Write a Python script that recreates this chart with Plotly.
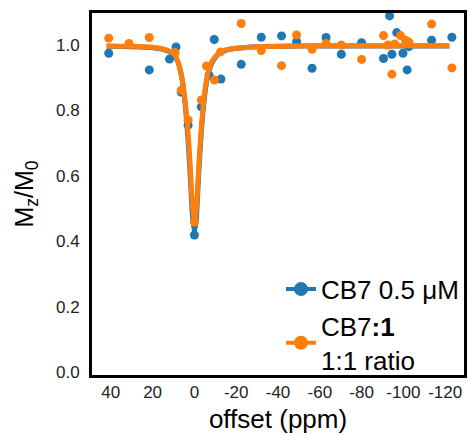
import plotly.graph_objects as go

# Data points (offset in ppm, Mz/M0)
blue_x = [41.0, 21.6, 11.9, 8.8, 6.3, 3.0, 0.0, -3.3, -7.0, -9.5, -12.7, -22.4, -32.0, -41.7,
          -48.9, -56.3, -63.0, -70.3, -80.0, -90.5, -93.4, -94.5, -96.8, -99.8, -101.8,
          -102.6, -113.5, -123.2]
blue_y = [0.975, 0.924, 0.957, 0.994, 0.856, 0.755, 0.419, 0.811, 0.908, 1.017, 0.896, 0.941,
          1.024, 1.028, 1.010, 0.929, 1.023, 0.972, 1.007, 0.959, 1.089, 0.972, 1.038, 0.975,
          0.924, 0.995, 1.015, 1.024]

orange_x = [41.0, 31.3, 21.6, 9.2, 6.3, 3.0, 0.0, -3.3, -5.8, -9.6, -12.5, -22.4, -32.0, -41.7,
            -48.9, -56.3, -63.0, -70.3, -80.0, -90.5, -92.6, -94.5, -95.8, -98.6, -101.0,
            -102.6, -113.5, -123.2]
orange_y = [1.021, 1.005, 1.023, 0.977, 0.862, 0.771, 0.459, 0.832, 0.936, 0.893, 0.979, 1.066,
            0.983, 0.937, 1.031, 0.987, 1.005, 1.000, 0.956, 1.029, 1.000, 0.911, 1.003, 1.029,
            1.015, 1.009, 1.064, 0.930]

# Fitted curves
fit_x = [42, 30, 20, 15, 12, 10, 8, 6, 5, 4, 3, 2, 1, 0, -1, -2, -3, -4, -5, -6, -8, -10,
         -12, -15, -20, -30, -50, -80, -122]
blue_fit_y = [0.996, 0.995, 0.992, 0.987, 0.980, 0.972, 0.950, 0.900, 0.855, 0.790, 0.705,
              0.600, 0.485, 0.425, 0.475, 0.600, 0.705, 0.790, 0.850, 0.895, 0.940, 0.962,
              0.975, 0.984, 0.990, 0.995, 0.997, 0.997, 0.997]
orange_fit_y = [0.997, 0.996, 0.993, 0.988, 0.982, 0.975, 0.952, 0.900, 0.860, 0.800, 0.730,
                0.630, 0.515, 0.455, 0.500, 0.620, 0.720, 0.800, 0.860, 0.900, 0.945, 0.965,
                0.977, 0.985, 0.990, 0.995, 0.997, 0.998, 0.998]

x_ticks = [40, 20, 0, -20, -40, -60, -80, -100, -120]
y_ticks = [0.0, 0.2, 0.4, 0.6, 0.8, 1.0]

BLUE = "#1f77b4"
ORANGE = "#ff7f0e"
FONT = "Liberation Sans, Arial, sans-serif"

fig = go.Figure()
fig.add_trace(go.Scatter(x=blue_x, y=blue_y, mode="markers", showlegend=False,
                         marker=dict(color=BLUE, size=9)))
fig.add_trace(go.Scatter(x=fit_x, y=blue_fit_y, mode="lines", showlegend=False,
                         line=dict(color=BLUE, width=5, shape="spline", smoothing=0.5)))
fig.add_trace(go.Scatter(x=orange_x, y=orange_y, mode="markers", showlegend=False,
                         marker=dict(color=ORANGE, size=9)))
fig.add_trace(go.Scatter(x=fit_x, y=orange_fit_y, mode="lines", showlegend=False,
                         line=dict(color=ORANGE, width=5, shape="spline", smoothing=0.5)))
# legend entries
fig.add_trace(go.Scatter(x=[None], y=[None], mode="lines+markers", name="CB7 0.5 μM",
                         marker=dict(color=BLUE, size=14), line=dict(color=BLUE, width=4)))
fig.add_trace(go.Scatter(x=[None], y=[None], mode="lines+markers",
                         name="CB7<b>:1</b><br>1:1 ratio",
                         marker=dict(color=ORANGE, size=14), line=dict(color=ORANGE, width=4)))

fig.update_layout(
    width=468, height=434,
    margin=dict(l=92, r=4, t=13, b=59, autoexpand=False),
    paper_bgcolor="white", plot_bgcolor="white",
    font=dict(family=FONT, color="black"),
    legend=dict(x=1, xanchor="right", y=-0.024, yanchor="bottom",
                bgcolor="rgba(255,255,255,0)", font=dict(size=26, family=FONT),
                tracegroupgap=0),
)
fig.update_xaxes(range=[49, -129], tickmode="array", tickvals=x_ticks,
                 ticktext=[str(v) for v in x_ticks], automargin=True,
                 showgrid=False, zeroline=False, showline=True, linecolor="black",
                 linewidth=3, mirror=True, ticks="",
                 tickfont=dict(size=17, color="#222"),
                 title=dict(text="offset (ppm)", font=dict(size=26), standoff=14))
fig.update_yaxes(range=[-0.009, 1.098], tickmode="array", tickvals=y_ticks,
                 ticktext=[f"{v:.1f}" for v in y_ticks], automargin=True,
                 showgrid=False, zeroline=False, showline=True, linecolor="black",
                 linewidth=3, mirror=True, ticks="outside", ticklen=6,
                 tickcolor="rgba(0,0,0,0)", tickfont=dict(size=17, color="#222"),
                 title=dict(text="M<sub>z</sub>/M<sub>0</sub>", font=dict(size=25), standoff=16))

fig.write_html("out.html")
